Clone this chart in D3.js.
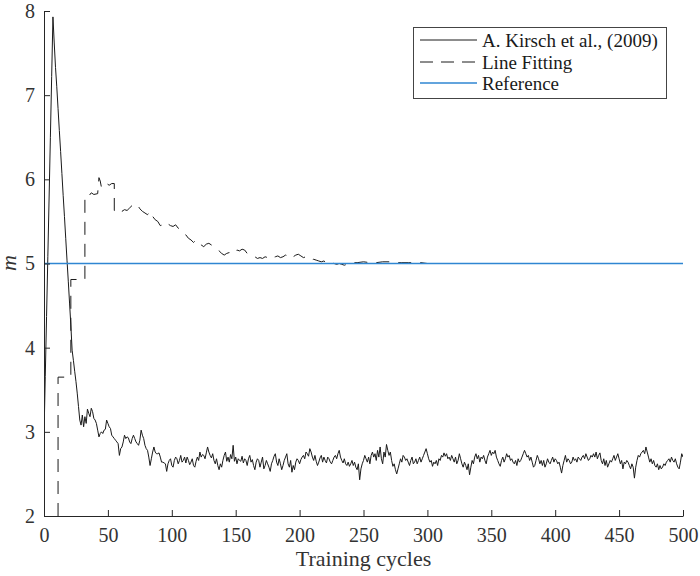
<!DOCTYPE html>
<html><head><meta charset="utf-8">
<script src="https://cdn.jsdelivr.net/npm/d3@7"></script>
<style>body{margin:0;background:#fff}svg{display:block}</style></head>
<body><svg id="c" width="700" height="576"></svg>
<script>
// ---- data ----
const seriesNames = ["A. Kirsch et al., (2009)", "Line Fitting", "Reference"];
const xTicks = [0,50,100,150,200,250,300,350,400,450,500];
const yTicks = [2,3,4,5,6,7,8];
// Kirsch et al. value per training cycle 0..500
const kirsch = [
2.95,3.66,4.37,5.08,5.79,6.50,7.22,7.93,7.62,7.33,
7.10,6.84,6.58,6.33,6.07,5.81,5.56,5.30,5.04,4.79,
4.53,4.27,3.97,3.85,3.72,3.60,3.46,3.30,3.14,3.08,
3.20,3.06,3.18,3.10,3.27,3.22,3.18,3.28,3.24,3.16,
3.14,3.10,3.02,2.94,2.98,3.00,2.98,3.02,3.03,3.14,
3.10,3.06,3.04,2.96,2.94,2.92,2.90,2.88,2.86,2.72,
2.80,2.82,2.88,2.96,2.92,2.94,2.93,2.88,2.86,2.92,
2.96,2.92,2.88,2.86,2.84,2.90,3.02,2.96,2.92,2.84,
2.80,2.78,2.70,2.60,2.68,2.76,2.82,2.76,2.74,2.74,
2.75,2.70,2.64,2.64,2.63,2.62,2.53,2.62,2.66,2.68,
2.60,2.58,2.66,2.70,2.68,2.62,2.66,2.72,2.64,2.66,
2.70,2.63,2.70,2.66,2.61,2.64,2.68,2.60,2.58,2.65,
2.70,2.66,2.76,2.70,2.73,2.72,2.68,2.75,2.82,2.76,
2.72,2.69,2.74,2.66,2.62,2.68,2.60,2.55,2.62,2.58,
2.66,2.72,2.76,2.65,2.70,2.64,2.73,2.68,2.84,2.65,
2.70,2.62,2.68,2.66,2.65,2.71,2.63,2.68,2.66,2.60,
2.68,2.72,2.64,2.67,2.60,2.55,2.64,2.68,2.66,2.58,
2.64,2.70,2.56,2.60,2.66,2.62,2.58,2.53,2.62,2.66,
2.71,2.74,2.64,2.60,2.68,2.62,2.55,2.60,2.66,2.70,
2.74,2.62,2.58,2.66,2.52,2.60,2.55,2.64,2.68,2.66,
2.62,2.67,2.70,2.72,2.68,2.76,2.74,2.71,2.80,2.76,
2.70,2.66,2.72,2.65,2.60,2.64,2.69,2.72,2.64,2.70,
2.66,2.63,2.70,2.68,2.64,2.62,2.66,2.70,2.72,2.68,
2.74,2.78,2.70,2.66,2.63,2.68,2.62,2.60,2.64,2.59,
2.62,2.66,2.60,2.64,2.58,2.55,2.62,2.43,2.56,2.62,
2.66,2.72,2.68,2.64,2.70,2.62,2.72,2.76,2.70,2.74,
2.66,2.78,2.70,2.82,2.68,2.62,2.76,2.70,2.85,2.78,
2.72,2.76,2.66,2.59,2.62,2.55,2.50,2.56,2.62,2.68,
2.64,2.72,2.70,2.66,2.68,2.64,2.60,2.66,2.70,2.62,
2.64,2.68,2.62,2.66,2.70,2.64,2.68,2.72,2.76,2.80,
2.74,2.68,2.64,2.66,2.59,2.64,2.62,2.66,2.60,2.68,
2.66,2.72,2.70,2.75,2.71,2.74,2.68,2.70,2.66,2.72,
2.68,2.64,2.70,2.62,2.66,2.74,2.68,2.62,2.58,2.64,
2.60,2.55,2.62,2.49,2.58,2.66,2.62,2.70,2.74,2.68,
2.72,2.64,2.70,2.68,2.72,2.66,2.62,2.70,2.74,2.78,
2.72,2.76,2.74,2.78,2.70,2.66,2.62,2.59,2.66,2.70,
2.64,2.68,2.74,2.70,2.72,2.66,2.68,2.64,2.62,2.66,
2.60,2.68,2.64,2.66,2.70,2.74,2.78,2.74,2.70,2.72,
2.66,2.70,2.64,2.58,2.60,2.66,2.72,2.68,2.62,2.66,
2.60,2.66,2.58,2.62,2.68,2.64,2.62,2.66,2.70,2.64,
2.68,2.66,2.62,2.64,2.58,2.51,2.60,2.66,2.72,2.64,
2.68,2.66,2.62,2.64,2.70,2.66,2.68,2.64,2.70,2.68,
2.66,2.70,2.72,2.68,2.74,2.70,2.66,2.68,2.72,2.70,
2.74,2.70,2.76,2.68,2.72,2.75,2.66,2.62,2.68,2.60,
2.66,2.58,2.62,2.66,2.64,2.68,2.72,2.66,2.70,2.74,
2.68,2.62,2.66,2.56,2.64,2.62,2.66,2.64,2.60,2.56,
2.62,2.58,2.45,2.58,2.66,2.72,2.70,2.74,2.76,2.78,
2.74,2.82,2.76,2.70,2.64,2.68,2.62,2.66,2.60,2.58,
2.62,2.55,2.60,2.56,2.58,2.62,2.60,2.64,2.66,2.68,
2.64,2.70,2.66,2.64,2.68,2.62,2.58,2.56,2.64,2.74,
2.70];
// Line fitting series (cycle, value)
const lfCycles = [11,11,21,21,32,32,35,37,39,42,43,44,45,47,49,51,53,55,55,57,59,61,63,65,67,69,71,73,75,77,79,81,83,85,87,89,91,93,95,97,99,101,103,105,107,109,111,113,115,117,119,121,123,125,127,129,131,133,135,137,139,141,143,145,147,149,151,153,155,157,159,161,163,165,167,169,171,173,175,177,179,181,183,185,187,189,191,193,195,197,199,201,203,205,207,209,211,213,215,217,219,221,223,225,227,229,231,233,235,237,239,241,245,250,255,260,265,270,275,280,285,290,295,300,500];
const lfValues = [2.00,3.65,3.65,4.81,4.81,5.80,5.80,5.84,5.82,5.83,6.02,5.98,5.90,5.92,5.95,5.93,5.95,5.95,5.63,5.62,5.65,5.62,5.64,5.63,5.66,5.69,5.68,5.70,5.65,5.62,5.60,5.58,5.62,5.56,5.52,5.50,5.45,5.46,5.44,5.47,5.45,5.44,5.46,5.42,5.40,5.36,5.34,5.30,5.28,5.25,5.28,5.24,5.22,5.20,5.23,5.24,5.22,5.20,5.18,5.15,5.12,5.10,5.12,5.13,5.11,5.14,5.16,5.15,5.17,5.16,5.12,5.10,5.09,5.08,5.06,5.07,5.06,5.08,5.07,5.05,5.07,5.08,5.09,5.07,5.08,5.10,5.09,5.06,5.08,5.10,5.11,5.09,5.07,5.08,5.06,5.04,5.05,5.04,5.03,5.02,5.03,5.01,5.00,5.01,5.00,4.99,5.00,4.99,4.98,4.99,5.00,5.01,5.01,5.02,5.01,5.01,5.02,5.02,5.01,5.01,5.01,5.01,5.01,5.00,5.00];
const refCycles = [0,500];
const refValues = [5,5];

// ---- chart ----
const svg = d3.select("#c");
const axisColor = "#262626";
const textColor = "#333";
const refColor = "#2f86d2";
const serif = "'Liberation Serif','DejaVu Serif',serif";
const x = d3.scaleLinear().domain([0,500]).range([44,683]);
const y = d3.scaleLinear().domain([2,8]).range([516,11]);

svg.append("defs").append("clipPath").attr("id","clip")
  .append("rect").attr("x",44).attr("y",11).attr("width",639).attr("height",505);

const plot = svg.append("g").attr("clip-path","url(#clip)");
const line = d3.line().x(d=>x(d[0])).y(d=>y(d[1]));

const kData = kirsch.map((v,i)=>[i,v]);
const lfData = lfCycles.map((c,i)=>[c,lfValues[i]]);
const refData = refCycles.map((c,i)=>[c,refValues[i]]);

plot.append("path").datum(kData).attr("d",line)
  .attr("fill","none").attr("stroke","#1a1a1a").attr("stroke-width",1);
plot.append("path").datum(lfData).attr("d",line)
  .attr("fill","none").attr("stroke","#1a1a1a").attr("stroke-width",1)
  .attr("stroke-dasharray","13,9");
plot.append("path").datum(refData).attr("d",line)
  .attr("fill","none").attr("stroke",refColor).attr("stroke-width",1.5);

const gx = svg.append("g").attr("transform","translate(0,516)")
  .call(d3.axisBottom(x).tickValues(xTicks).tickFormat(d3.format("d")).tickSizeInner(-6).tickSizeOuter(0).tickPadding(12));
const gy = svg.append("g").attr("transform","translate(44,0)")
  .call(d3.axisLeft(y).tickValues(yTicks).tickFormat(d3.format("d")).tickSizeInner(-6).tickSizeOuter(0).tickPadding(9));
[gx,gy].forEach(g=>{
  g.select(".domain").attr("stroke",axisColor);
  g.selectAll(".tick line").attr("stroke",axisColor);
  g.selectAll(".tick text").attr("fill",textColor).style("font-family",serif).style("font-size","20px");
});

svg.append("text").attr("x",363.5).attr("y",566).attr("text-anchor","middle")
  .style("font-family",serif).style("font-size","22px").attr("fill",textColor)
  .text("Training cycles");
svg.append("text").attr("transform","translate(16,263) rotate(-90)").attr("text-anchor","middle")
  .attr("dominant-baseline","auto")
  .style("font-family",serif).style("font-size","22px").style("font-style","italic").attr("fill",textColor)
  .text("m");

// legend
const lg = svg.append("g");
lg.append("rect").attr("x",413.5).attr("y",27.5).attr("width",253).attr("height",71)
  .attr("fill","#fff").attr("stroke","#444").attr("stroke-width",1);
const rows = [40,62,83];
const styles = [{c:"#1a1a1a",d:null,w:1},{c:"#1a1a1a",d:"13,8",w:1},{c:refColor,d:null,w:1.5}];
seriesNames.forEach((n,i)=>{
  const l = lg.append("line").attr("x1",420).attr("x2",477).attr("y1",rows[i]).attr("y2",rows[i])
    .attr("stroke",styles[i].c).attr("stroke-width",styles[i].w);
  if(styles[i].d) l.attr("stroke-dasharray",styles[i].d);
  lg.append("text").attr("x",482).attr("y",rows[i]+6.5)
    .style("font-family",serif).style("font-size","19px").attr("fill","#1a1a1a").text(n);
});
</script></body></html>
